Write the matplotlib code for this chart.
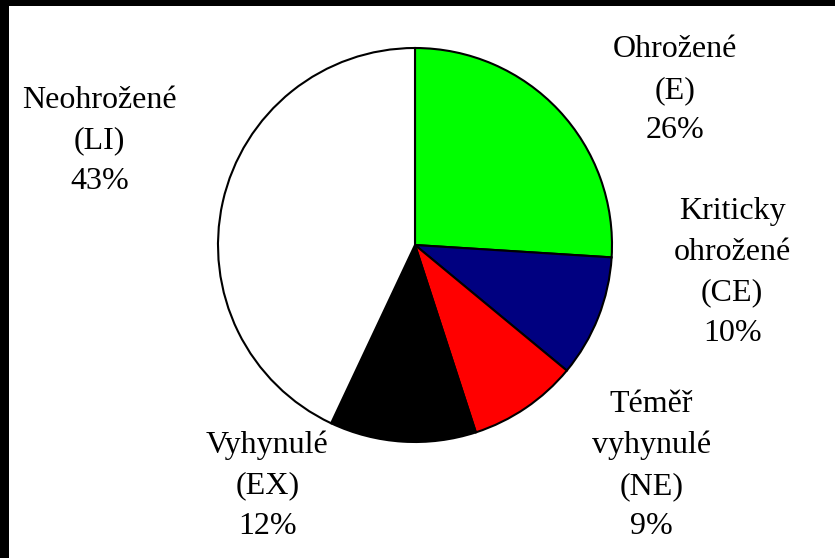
import matplotlib.pyplot as plt
from matplotlib.patches import Rectangle

# Data
labels = ['Ohrožené\n(E)', 'Kriticky\nohrožené\n(CE)', 'Téměř\nvyhynulé\n(NE)',
          'Vyhynulé\n(EX)', 'Neohrožené\n(LI)']
values = [26, 10, 9, 12, 43]
colors = ['#00ff00', '#000080', '#ff0000', '#000000', '#ffffff']
label_pos = [(1.32, 0.785), (1.61, -0.14), (1.20, -1.12), (-0.75, -1.22), (-1.60, 0.53)]

plt.rcParams['font.family'] = ['Liberation Serif', 'DejaVu Serif']

W, H = 835, 558
fig = plt.figure(figsize=(W / 100, H / 100), dpi=100)
fig.patch.set_facecolor('white')

cx, cy, r = 415, 245, 197
ax = fig.add_axes([(cx - r) / W, (H - cy - r) / H, 2 * r / W, 2 * r / H])
ax.pie(values, colors=colors, startangle=90, counterclock=False,
       wedgeprops=dict(edgecolor='black', linewidth=1.5), radius=1)
ax.set_xlim(-1, 1)
ax.set_ylim(-1, 1)
ax.set_aspect('equal')
ax.axis('off')

for lab, v, (x, y) in zip(labels, values, label_pos):
    ax.text(x, y, f'{lab}\n{v}%', ha='center', va='center', fontsize=23,
            clip_on=False, linespacing=1.52)

# black frame on top and left edges
fig.add_artist(Rectangle((0, 1 - 6 / H), 1, 6 / H, transform=fig.transFigure,
                         facecolor='black', edgecolor='none'))
fig.add_artist(Rectangle((0, 0), 9 / W, 1, transform=fig.transFigure,
                         facecolor='black', edgecolor='none'))

fig.savefig('out.png', dpi=100)
